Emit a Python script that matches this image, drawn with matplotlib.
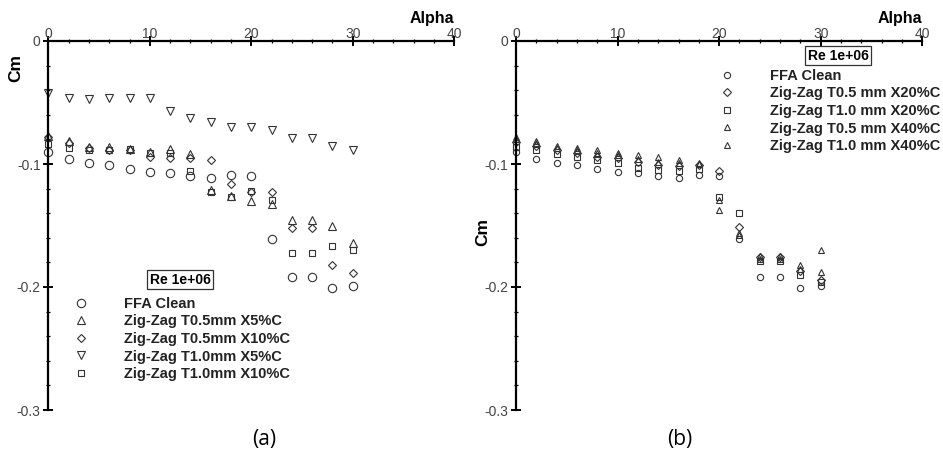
import matplotlib.pyplot as plt
from matplotlib.lines import Line2D
from matplotlib.ticker import MultipleLocator
import matplotlib.transforms as mtransforms

# angle of attack, deg
alpha = [0, 2, 4, 6, 8, 10, 12, 14, 16, 18, 20, 22, 24, 26, 28, 30]

# Cm, clean aerofoil (same run in both panels)
ffa_clean = [-0.090, -0.096, -0.099, -0.101, -0.104, -0.1065, -0.107, -0.110,
             -0.111, -0.109, -0.110, -0.161, -0.192, -0.192, -0.201, -0.1995]

# panel (a)
a_t05_x5 = [-0.077, -0.081, -0.086, -0.086, -0.088, -0.090, -0.088, -0.092,
            -0.121, -0.126, -0.130, -0.1325, -0.1455, -0.1455, -0.150, -0.164]
a_t05_x10 = [-0.078, -0.083, -0.087, -0.089, -0.089, -0.094, -0.095, -0.095,
             -0.097, -0.116, -0.123, -0.123, -0.152, -0.152, -0.182, -0.189]
a_t10_x5 = [-0.042, -0.046, -0.047, -0.046, -0.046, -0.046, -0.057, -0.063,
            -0.066, -0.070, -0.070, -0.072, -0.079, -0.079, -0.085, -0.089]
a_t10_x10 = [-0.084, -0.087, -0.089, -0.089, -0.088, -0.091, -0.091, -0.106,
             -0.123, -0.127, -0.122, -0.129, -0.1725, -0.1725, -0.167, -0.170]

# panel (b)
b_t05_x20 = [-0.082, -0.085, -0.089, -0.091, -0.094, -0.095, -0.098, -0.101,
             -0.102, -0.101, -0.1055, -0.151, -0.176, -0.176, -0.187, -0.194]
b_t10_x20 = [-0.086, -0.089, -0.092, -0.094, -0.097, -0.099, -0.103, -0.105,
             -0.106, -0.104, -0.127, -0.140, -0.179, -0.179, -0.190, -0.196]
b_t05_x40 = [-0.078, -0.081, -0.085, -0.087, -0.089, -0.091, -0.093, -0.094,
             -0.097, -0.099, -0.137, -0.156, -0.175, -0.175, -0.182, -0.170]
b_t10_x40 = [-0.080, -0.083, -0.087, -0.089, -0.091, -0.093, -0.096, -0.098,
             -0.099, -0.100, -0.129, -0.158, -0.177, -0.177, -0.185, -0.188]

labels_a = ['FFA Clean', 'Zig-Zag T0.5mm X5%C', 'Zig-Zag T0.5mm X10%C',
            'Zig-Zag T1.0mm X5%C', 'Zig-Zag T1.0mm X10%C']
labels_b = ['FFA Clean', 'Zig-Zag T0.5 mm X20%C', 'Zig-Zag T1.0 mm X20%C',
            'Zig-Zag T0.5 mm X40%C', 'Zig-Zag T1.0 mm X40%C']

W, H = 943, 455
plt.rcParams['font.family'] = ['Liberation Sans', 'DejaVu Sans']
fig = plt.figure(figsize=(W / 100, H / 100), dpi=100)

EDGE = '#333333'


def px_rect(x0, x1, y0, y1):
    return [x0 / W, 1 - y1 / H, (x1 - x0) / W, (y1 - y0) / H]


def setup(ax, cm_y):
    ax.set_xlim(0, 40)
    ax.set_ylim(-0.3, 0)
    for s in ['right', 'bottom']:
        ax.spines[s].set_visible(False)
    for s in ['top', 'left']:
        ax.spines[s].set_linewidth(1.6)
    ax.xaxis.tick_top()
    ax.xaxis.set_major_locator(MultipleLocator(10))
    ax.xaxis.set_minor_locator(MultipleLocator(2))
    ax.yaxis.set_major_locator(MultipleLocator(0.1))
    ax.yaxis.set_minor_locator(MultipleLocator(0.02))
    ax.set_xticks([0, 10, 20, 30, 40])
    ax.set_xticklabels(['0', '10', '20', '30', '40'])
    ax.set_yticks([0, -0.1, -0.2, -0.3])
    ax.set_yticklabels(['0', '-0.1', '-0.2', '-0.3'])
    ax.tick_params(which='major', direction='inout', length=7, width=1.4,
                   labelsize=10, labelcolor='#444444')
    ax.tick_params(which='minor', direction='inout', length=3.5, width=0.9)
    ax.tick_params(axis='x', which='major', pad=-3.5)
    ax.tick_params(axis='y', which='major', pad=2)
    off = mtransforms.offset_copy(ax.transAxes, fig=fig, x=0, y=18, units='dots')
    ax.text(1.0, 1.0, 'Alpha', transform=off, ha='right', va='baseline',
            fontsize=11.5, fontweight='bold')
    tr = mtransforms.blended_transform_factory(ax.transAxes, ax.transData)
    tr = tr + mtransforms.ScaledTranslation(-33 / 100, 0, fig.dpi_scale_trans)
    ax.text(0, cm_y, 'Cm', transform=tr, rotation=90, ha='center', va='center',
            fontsize=12.5, fontweight='bold')


def pts(ax, y, marker, ms, mew=0.8):
    ax.plot(alpha, y, linestyle='none', marker=marker, ms=ms, mfc='none',
            mec=EDGE, mew=mew, clip_on=False)


def legend(ax, handles, labels, x, y, box_xy):
    leg = ax.legend(handles, labels, loc='upper left',
                    bbox_to_anchor=(x / W, 1 - y / H), bbox_transform=fig.transFigure,
                    frameon=False, handlelength=1.0, handletextpad=2.45,
                    labelspacing=0.24, borderpad=0, borderaxespad=0,
                    prop={'size': 10.5, 'weight': 'bold'})
    for t in leg.get_texts():
        t.set_color('#222222')
    fig.text(box_xy[0] / W, 1 - box_xy[1] / H, 'Re 1e+06', ha='center', va='center',
             fontsize=10, fontweight='bold',
             bbox=dict(boxstyle='square,pad=0.18', fc='white', ec='#333333', lw=0.9))


def handle(marker, ms):
    return Line2D([], [], linestyle='none', marker=marker, ms=ms, mfc='none',
                  mec=EDGE, mew=0.8)


# panel (a)
ax1 = fig.add_axes(px_rect(48.3, 454.3, 41, 410))
setup(ax1, -0.022)
pts(ax1, ffa_clean, 'o', 6)
pts(ax1, a_t05_x5, '^', 5.5)
pts(ax1, a_t05_x10, 'D', 4.2)
pts(ax1, a_t10_x5, 'v', 5.5)
pts(ax1, a_t10_x10, 's', 4.3)
legend(ax1, [handle('o', 6), handle('^', 5.5), handle('D', 4.2), handle('v', 5.5),
             handle('s', 4.3)], labels_a, 74, 297, (180, 279.5))

# panel (b)
ax2 = fig.add_axes(px_rect(516, 922.3, 41, 410))
setup(ax2, -0.155)
pts(ax2, ffa_clean, 'o', 4.5)
pts(ax2, b_t05_x20, 'D', 4)
pts(ax2, b_t10_x20, 's', 4)
pts(ax2, b_t05_x40, '^', 5)
pts(ax2, b_t10_x40, '^', 5)
legend(ax2, [handle('o', 4.5), handle('D', 4), handle('s', 4), handle('^', 5),
             handle('^', 5)], labels_b, 720, 69, (838, 55.5))

fig.text(264 / W, 1 - 440 / H, '(a)', ha='center', va='center', fontsize=15,
         family='Open Sans')
fig.text(680 / W, 1 - 440 / H, '(b)', ha='center', va='center', fontsize=15,
         family='Open Sans')

fig.savefig('out.png', dpi=100)
